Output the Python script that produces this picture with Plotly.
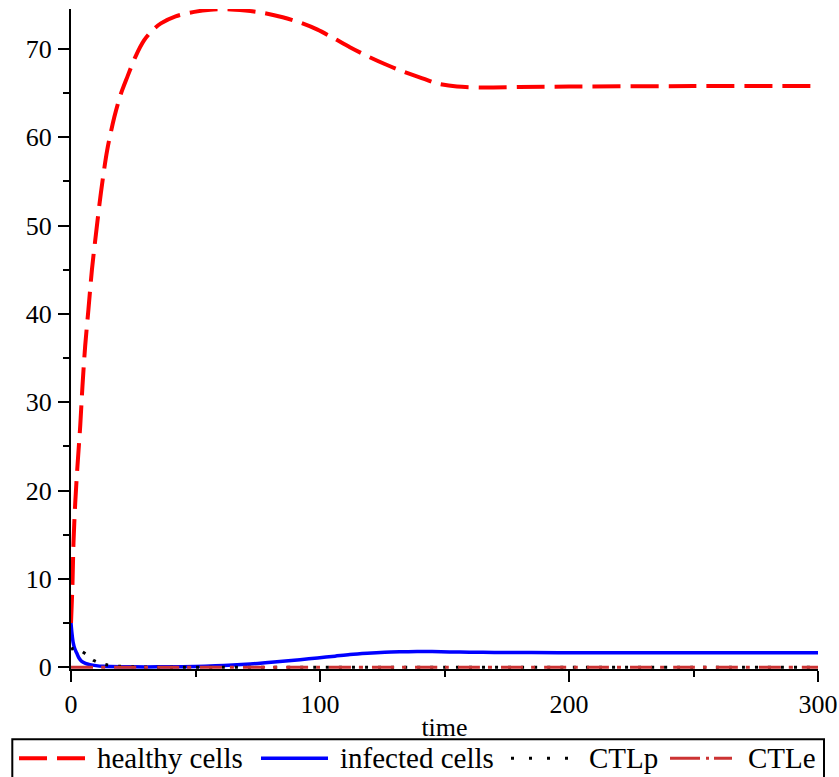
import plotly.graph_objects as go

# ---------------- data ----------------
t_healthy = [0, 0.6, 1.0, 1.7, 2.6, 3.7, 4.6, 5.7, 7.0, 8.4, 10.0, 12.0, 14.5, 17.4, 20.0,
             22.7, 26.0, 29.4, 33.0, 36.1, 42.0, 49.5, 56.0, 62.8, 70.0, 77.0, 85.0, 92.0,
             99.0, 105.0, 112.0, 119.0, 126.0, 132.0, 140.0, 147.0, 155.0, 165.0, 180.0,
             200.0, 250.0, 300.0]
healthy = [5.0, 9.5, 14.1, 18.6, 22.8, 27.3, 31.8, 36.4, 40.5, 45.0, 49.0, 53.7, 58.5, 62.3, 64.9,
           66.9, 69.2, 71.0, 72.2, 72.9, 73.7, 74.2, 74.45, 74.5, 74.35, 74.1, 73.6, 73.0,
           72.2, 71.3, 70.2, 69.2, 68.3, 67.6, 66.8, 66.1, 65.75, 65.65, 65.7,
           65.75, 65.8, 65.8]

t_infected = [0, 0.4, 0.9, 1.5, 2.3, 3.2, 4.3, 5.8, 7.6, 10.0, 13.0, 20.0, 30.0, 40.0, 50.0,
              58.0, 65.0, 72.0, 78.0, 85.0, 92.0, 99.0, 106.0, 112.0, 119.0, 126.0, 132.0,
              139.0, 145.0, 152.0, 160.0, 170.0, 185.0, 200.0, 250.0, 300.0]
infected = [5.0, 3.8, 2.75, 2.1, 1.6, 1.05, 0.67, 0.45, 0.3, 0.18, 0.1, 0.05, 0.04, 0.05, 0.09,
            0.16, 0.25, 0.37, 0.5, 0.67, 0.86, 1.05, 1.25, 1.43, 1.58, 1.69, 1.74,
            1.77, 1.77, 1.73, 1.70, 1.68, 1.66, 1.65, 1.65, 1.65]

t_ctlp = [0, 1.0, 2.0, 3.0, 4.7, 6.0, 7.0, 8.0, 9.0, 10.5, 12.0, 14.7, 17.0, 20.0, 25.0, 30.0,
          40.0, 60.0, 100.0, 150.0, 200.0, 250.0, 300.0]
ctlp = [2.0, 2.15, 2.12, 2.0, 1.73, 1.48, 1.25, 1.02, 0.8, 0.6, 0.45, 0.25, 0.16, 0.1, 0.05, 0.02,
        0.0, 0.0, 0.0, 0.0, 0.0, 0.0, 0.0]

t_ctle = [0, 50, 100, 150, 200, 250, 300]
ctle = [0.0, 0.0, 0.0, 0.0, 0.0, 0.0, 0.0]

x_ticks = [0, 100, 200, 300]
y_ticks = [0, 10, 20, 30, 40, 50, 60, 70]

series_names = ["healthy cells", "infected cells", "CTLp", "CTLe"]

# ---------------- styles ----------------
FONT = "Liberation Serif"
RED = "#ff0000"
BLUE = "#0000ff"
BLACK = "#000000"
CTLE_COL = "#cc3333"

W, H = 839, 777
ML, MR, MT, MB = 71, 21, 9, 108

styles = [
    dict(color=RED, width=4, dash="28px,10px"),
    dict(color=BLUE, width=3.5, dash="solid"),
    dict(color=BLACK, width=3, dash="3px,10px"),
    dict(color=CTLE_COL, width=3, dash="22px,8px,4px,9px"),
]

fig = go.Figure()
for (tx, ty), name, st in zip([(t_healthy, healthy), (t_infected, infected),
                              (t_ctlp, ctlp), (t_ctle, ctle)], series_names, styles):
    fig.add_trace(go.Scatter(x=tx, y=ty, mode="lines", name=name,
                             line=dict(color=st["color"], width=st["width"], dash=st["dash"],
                                       shape="spline", smoothing=0.8),
                             showlegend=False, hoverinfo="skip"))

fig.update_layout(
    width=W, height=H,
    margin=dict(l=ML, r=MR, t=MT, b=MB, pad=0, autoexpand=False),
    paper_bgcolor="white", plot_bgcolor="white",
    font=dict(family=FONT, color=BLACK, size=26),
    xaxis=dict(range=[0, 300], tickvals=x_ticks, ticktext=[str(v) for v in x_ticks],
               showline=True, linecolor=BLACK, linewidth=2, mirror=False,
               ticks="outside", ticklen=11, tickwidth=2, tickcolor=BLACK,
               minor=dict(dtick=50, ticks="outside", ticklen=6, tickwidth=2, tickcolor=BLACK),
               showgrid=False, zeroline=False, automargin=False,
               tickfont=dict(family=FONT, size=26, color=BLACK),
               title=dict(text="time", font=dict(family=FONT, size=26, color=BLACK), standoff=0),
               layer="below traces"),
    yaxis=dict(range=[-0.2, 74.53], tickvals=y_ticks, ticktext=[str(v) for v in y_ticks],
               showline=True, linecolor=BLACK, linewidth=2, mirror=False,
               ticks="outside", ticklen=11, tickwidth=2, tickcolor=BLACK,
               minor=dict(dtick=5, ticks="outside", ticklen=6, tickwidth=2, tickcolor=BLACK),
               showgrid=False, zeroline=False, automargin=False,
               tickfont=dict(family=FONT, size=26, color=BLACK),
               ticklabelstandoff=1, layer="below traces"),
)

# ---------------- legend (drawn in paper coordinates) ----------------
PW = W - ML - MR
PH = H - MT - MB


def px(xp):
    return (xp - ML) / PW


def py(yp):
    return (H - MB - yp) / PH


fig.add_shape(type="rect", xref="paper", yref="paper",
              x0=px(12.3), x1=px(824), y0=py(739.3), y1=py(795),
              line=dict(color=BLACK, width=2), fillcolor="white", layer="above")

legend_y = 758.3
sample_x = [(19, 86), (261, 328), (511, 578), (670, 732)]
text_x = [96, 339, 588, 747]
legend_dash = ["28px,10px", "solid", "3px,15px", "30px,6px,3px,5px"]
for (x0, x1), tx, name, st, dsh in zip(sample_x, text_x, series_names, styles, legend_dash):
    fig.add_shape(type="line", xref="paper", yref="paper",
                  x0=px(x0), x1=px(x1), y0=py(legend_y), y1=py(legend_y),
                  line=dict(color=st["color"], width=st["width"], dash=dsh), layer="above")
    fig.add_annotation(xref="paper", yref="paper", x=px(tx), y=py(legend_y),
                       xanchor="left", yanchor="middle", showarrow=False, text=name,
                       font=dict(family=FONT, size=29, color=BLACK), borderpad=0)

fig.write_html("out.html")
